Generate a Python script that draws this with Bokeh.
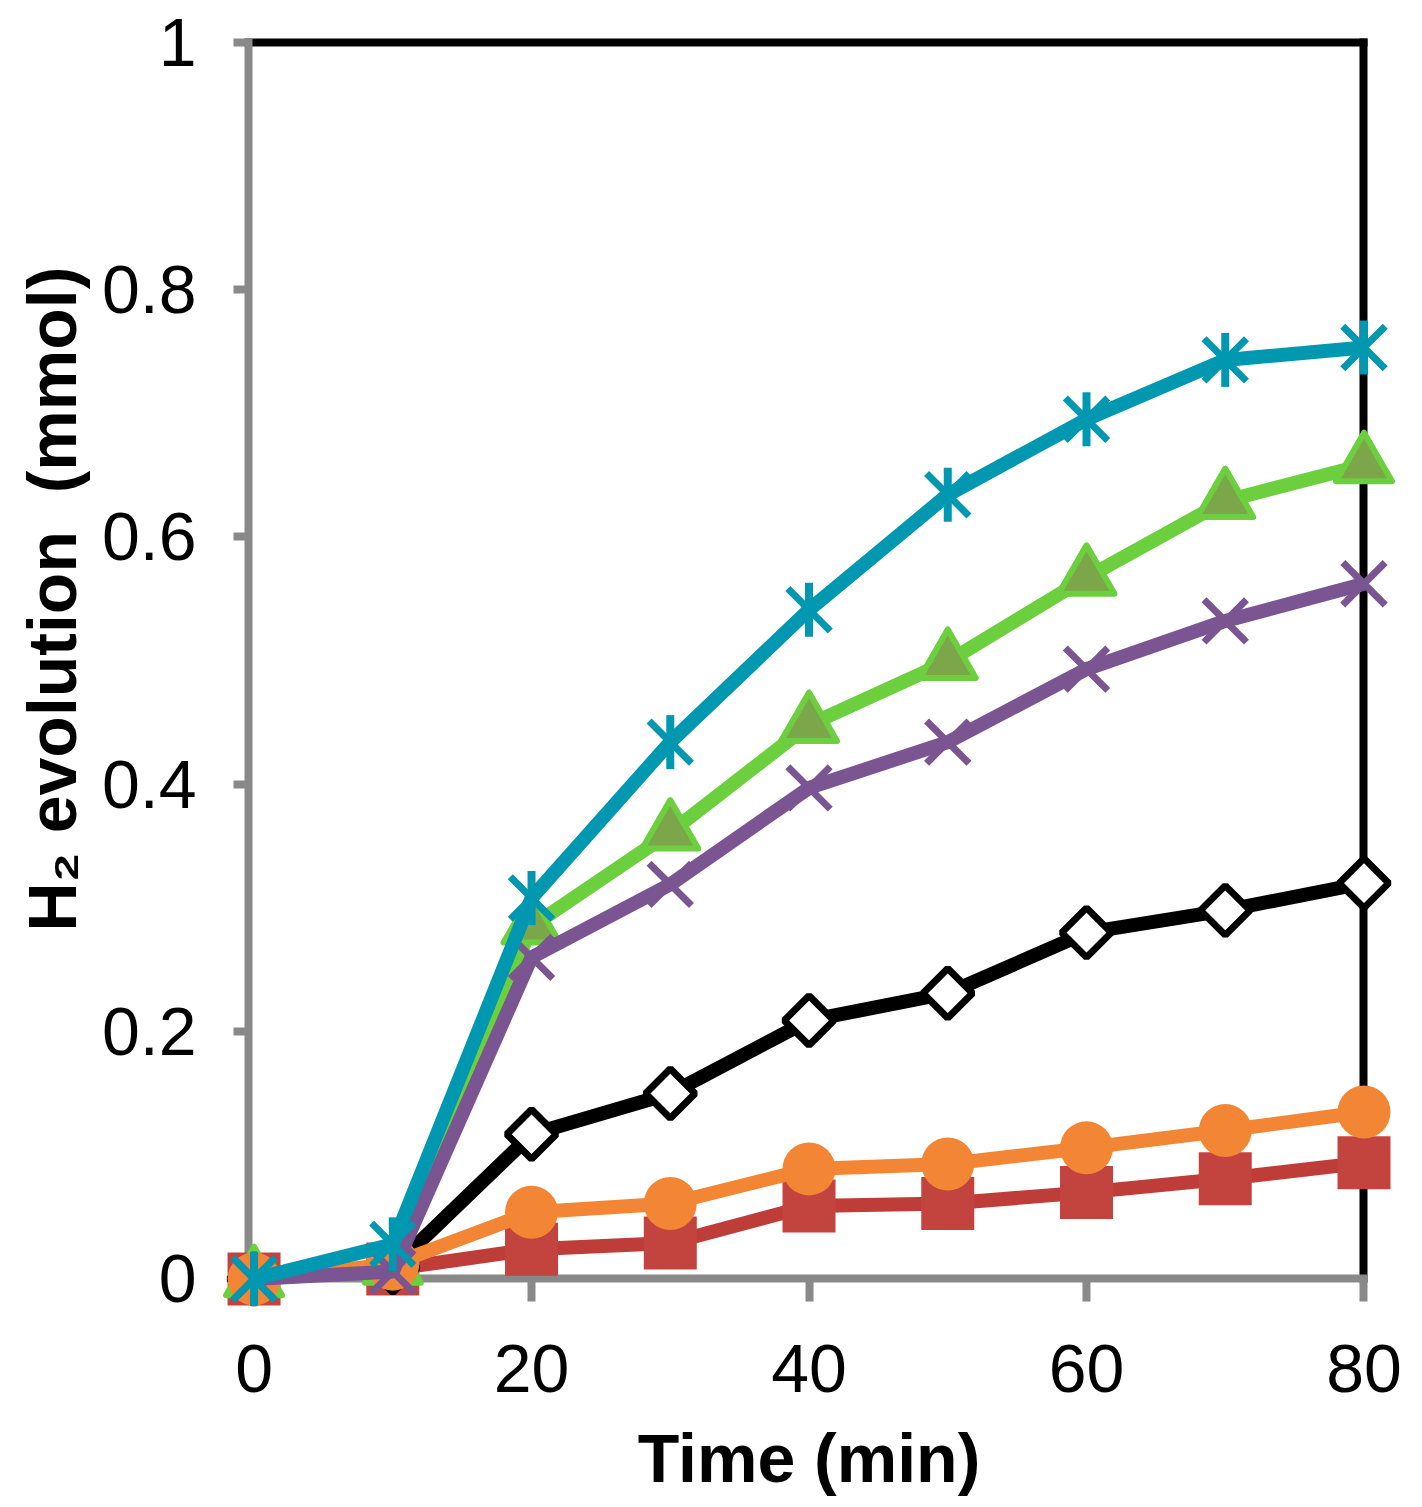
import numpy as np
from bokeh.plotting import figure
from bokeh.models import LinearAxis, FixedTicker, Range1d, Title
from bokeh.embed import file_html
from bokeh.resources import INLINE

# time (min)
time_min = [0, 10, 20, 30, 40, 50, 60, 70, 80]

# H2 evolution (mmol), one list per series
h2_square = [0, 0.008, 0.024, 0.029, 0.059, 0.061, 0.070, 0.081, 0.094]
h2_diamond = [0, 0.009, 0.117, 0.150, 0.209, 0.231, 0.280, 0.298, 0.320]
h2_triangle = [0, 0.010, 0.285, 0.361, 0.448, 0.499, 0.567, 0.629, 0.658]
h2_circle = [0, 0.012, 0.054, 0.061, 0.089, 0.093, 0.106, 0.120, 0.135]
h2_cross = [0, 0.006, 0.260, 0.319, 0.397, 0.434, 0.493, 0.532, 0.562]
h2_star = [0, 0.028, 0.308, 0.434, 0.541, 0.634, 0.695, 0.743, 0.753]

x_ticks = [0, 20, 40, 60, 80]
y_ticks = [0, 0.2, 0.4, 0.6, 0.8, 1]
y_tick_labels = ["0", "0.2", "0.4", "0.6", "0.8", "1"]

FONT = "Liberation Sans"
GRAY = "#898989"

# frame is a bit larger than the axes box so edge markers are not clipped
p = figure(
    width=1414,
    height=1499,
    x_range=Range1d(-2.418, 82.415),
    y_range=Range1d(-0.0271, 1.0093),
    x_axis_location=None,
    y_axis_location=None,
    output_backend="svg",
    toolbar_location=None,
    min_border_left=220,
    min_border_right=17,
    min_border_top=30,
    min_border_bottom=187,
)
p.outline_line_color = None
p.grid.visible = False
p.background_fill_color = "white"


def rule_axis(ticks, color, tick_in, loc, bounds, level):
    # axis line + ticks only, drawn under the data
    ax = LinearAxis(ticker=FixedTicker(ticks=ticks), fixed_location=loc, bounds=bounds)
    ax.level = level
    ax.axis_line_color = color
    ax.axis_line_width = 8
    ax.axis_line_cap = "square"
    ax.major_tick_line_color = color
    ax.major_tick_line_width = 8
    ax.major_tick_in = tick_in
    ax.major_tick_out = 0
    ax.minor_tick_line_color = None
    ax.major_label_overrides = {t: "" for t in ticks}
    ax.major_label_standoff = 0
    ax.major_label_text_font_size = "1px"
    return ax


def label_axis(ticks, standoff):
    # tick labels only
    ax = LinearAxis(ticker=FixedTicker(ticks=ticks))
    ax.axis_line_color = None
    ax.major_tick_line_color = None
    ax.minor_tick_line_color = None
    ax.major_tick_in = 0
    ax.major_tick_out = 0
    ax.major_label_standoff = standoff
    ax.major_label_text_font = FONT
    ax.major_label_text_font_size = "68px"
    ax.major_label_text_color = "black"
    return ax


# black lines on top and right
p.add_layout(rule_axis([], "black", 0, 1, (-0.4, 80), "image"), "above")
p.add_layout(rule_axis([], "black", 0, 80, (0, 1), "image"), "right")

# gray axes (ticks point outward via tick_in from the opposite side)
p.add_layout(rule_axis(x_ticks, GRAY, 23, 0, (-0.4, 80), "underlay"), "above")
p.add_layout(rule_axis(y_ticks, GRAY, 15, -0.4, (0, 1), "underlay"), "right")

xlab = label_axis(x_ticks, 32)
xlab.bounds = (-2.415, 82.415)
xlab.axis_label = "Time (min)"
xlab.axis_label_standoff = 25
xlab.axis_label_text_font = FONT
xlab.axis_label_text_font_size = "68px"
xlab.axis_label_text_font_style = "bold"
xlab.axis_label_text_color = "black"
p.add_layout(xlab, "below")

ylab = label_axis(y_ticks, 24)
ylab.major_label_overrides = dict(zip(y_ticks, y_tick_labels))
p.add_layout(ylab, "left")

p.add_layout(Title(text="H₂ evolution\u00a0 (mmol)", align="left", offset=381,
                   vertical_align="bottom", standoff=18, text_font=FONT,
                   text_font_size="68px", text_font_style="bold",
                   text_color="black"), "left")

LW = 14

# red squares
p.line(time_min, h2_square, line_color="#BF3D39", line_width=LW)
p.scatter(time_min, h2_square, marker="square", size=53,
          fill_color="#C3443F", line_color=None)

# green triangles
p.line(time_min, h2_triangle, line_color="#6CCF3E", line_width=LW)
p.scatter(time_min, h2_triangle, marker="triangle", size=56,
          fill_color="#7BA64A", line_color="#6CCF3E", line_width=6,
          line_join="round")

# black open diamonds
p.line(time_min, h2_diamond, line_color="black", line_width=LW)
p.scatter(time_min, h2_diamond, marker="square", angle=np.pi / 4, size=35,
          fill_color="white", line_color="black", line_width=7)

# orange circles
p.line(time_min, h2_circle, line_color="#F38634", line_width=LW)
p.scatter(time_min, h2_circle, marker="circle", size=53,
          fill_color="#F38634", line_color=None)

# purple crosses
p.line(time_min, h2_cross, line_color="#7A5591", line_width=LW)
p.scatter(time_min, h2_cross, marker="x", size=60,
          line_color="#7A5591", line_width=7)

# cyan asterisks (x plus vertical bar)
p.line(time_min, h2_star, line_color="#0097B0", line_width=LW)
p.scatter(time_min, h2_star, marker="x", size=60,
          line_color="#0097B0", line_width=7)
p.scatter(time_min, h2_star, marker="dash", angle=np.pi / 2, size=54,
          line_color="#0097B0", line_width=8)

open("out.html", "w").write(file_html(p, INLINE))
